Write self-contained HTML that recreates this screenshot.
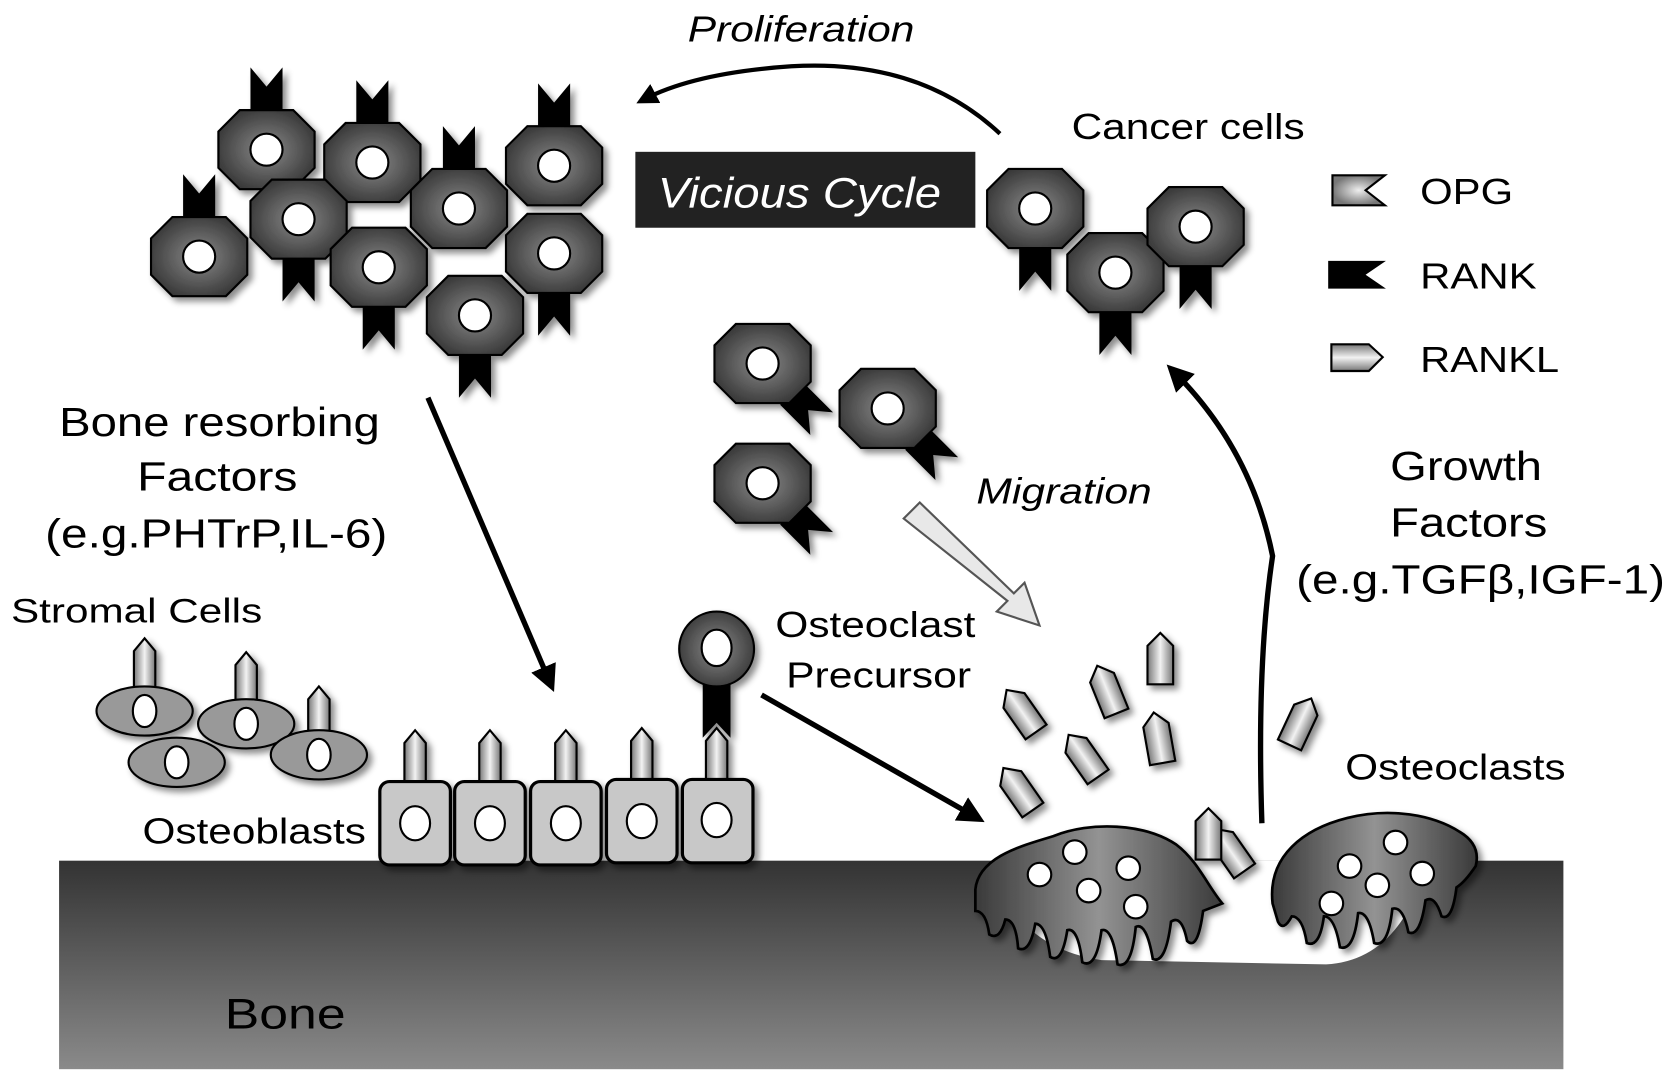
<!DOCTYPE html>
<html><head><meta charset="utf-8"><style>
html,body{margin:0;padding:0;background:#fff;}
svg{display:block;}
text{font-family:"Liberation Sans",sans-serif;fill:#000;}
</style></head><body>
<svg width="1677" height="1082" viewBox="0 0 1568 1012" xmlns="http://www.w3.org/2000/svg">
<defs>
<radialGradient id="cellg" cx="50%" cy="50%" r="60%"><stop offset="0" stop-color="#8a8a8a"/><stop offset="1" stop-color="#303030"/></radialGradient>
<linearGradient id="boneg" x1="0" y1="0" x2="0" y2="1"><stop offset="0" stop-color="#333"/><stop offset="1" stop-color="#8a8a8a"/></linearGradient>
<linearGradient id="rkl" x1="0" y1="0" x2="1" y2="0"><stop offset="0" stop-color="#777"/><stop offset="0.5" stop-color="#f2f2f2"/><stop offset="1" stop-color="#777"/></linearGradient>
<linearGradient id="rklh" x1="0" y1="0" x2="0" y2="1"><stop offset="0" stop-color="#777"/><stop offset="0.5" stop-color="#f2f2f2"/><stop offset="1" stop-color="#777"/></linearGradient>
<linearGradient id="ocg" x1="0" y1="0" x2="1" y2="0"><stop offset="0" stop-color="#3a3a3a"/><stop offset="0.5" stop-color="#939393"/><stop offset="1" stop-color="#3a3a3a"/></linearGradient>
<radialGradient id="opgg"><stop offset="0" stop-color="#eee"/><stop offset="1" stop-color="#777"/></radialGradient>
<filter id="sh" x="-30%" y="-30%" width="160%" height="160%"><feDropShadow dx="4" dy="4" stdDeviation="3" flood-color="#000" flood-opacity="0.45"/></filter>
<g id="oct"><polygon points="-25,-37 25,-37 45,-17 45,17 25,37 -25,37 -45,17 -45,-17" fill="url(#cellg)" stroke="#000" stroke-width="2"/><circle r="15" fill="#fff" stroke="#000" stroke-width="2"/></g>
<polygon id="rank" points="-15,0 15,0 15,-40 0,-22 -15,-40" fill="#000"/>
<g id="rankl"><polygon points="-12,24 12,24 12,-12 0,-24 -12,-12" fill="url(#rkl)" stroke="#000" stroke-width="2"/></g>
<g id="stick"><polygon points="-10,0 10,0 10,-36 0,-48 -10,-36" fill="url(#rkl)" stroke="#000" stroke-width="2"/></g>
<marker id="ah" markerWidth="5" markerHeight="5" refX="3" refY="2.5" orient="auto" markerUnits="strokeWidth"><path d="M0,0 L5,2.5 L0,5 z" fill="#000"/></marker>
</defs>

<!-- bone -->
<rect x="55" y="805" width="1407" height="195" fill="url(#boneg)"/>
<path d="M930,805 Q945,885 1030,898 L1240,902 Q1310,898 1335,805 z" fill="#fff"/>
<text x="210" y="962" font-size="40" textLength="113" lengthAdjust="spacingAndGlyphs">Bone</text>

<!-- top-left cluster -->
<g filter="url(#sh)">
<use href="#rank" x="249" y="103"/><use href="#rank" x="348" y="115"/><use href="#rank" x="186" y="203"/><use href="#rank" x="429" y="158"/><use href="#rank" x="518" y="118"/>
<use href="#rank" transform="translate(279,242) rotate(180)"/><use href="#rank" transform="translate(354,287) rotate(180)"/><use href="#rank" transform="translate(518,274) rotate(180)"/><use href="#rank" transform="translate(444,332) rotate(180)"/>
<use href="#oct" x="186" y="240"/><use href="#oct" x="249" y="140"/><use href="#oct" x="348" y="152"/><use href="#oct" x="279" y="205"/><use href="#oct" x="518" y="155"/><use href="#oct" x="429" y="195"/><use href="#oct" x="354" y="250"/><use href="#oct" x="518" y="237"/><use href="#oct" x="444" y="295"/>
</g>

<!-- cancer cells right -->
<g filter="url(#sh)">
<use href="#rank" transform="translate(968,232) rotate(180)"/><use href="#rank" transform="translate(1043,292) rotate(180)"/><use href="#rank" transform="translate(1118,249) rotate(180)"/>
<use href="#oct" x="968" y="195"/><use href="#oct" x="1043" y="255"/><use href="#oct" x="1118" y="212"/>
</g>
<text x="1002" y="130" font-size="34" textLength="218" lengthAdjust="spacingAndGlyphs">Cancer cells</text>

<!-- middle cells -->
<g filter="url(#sh)">
<use href="#rank" transform="translate(740,368) rotate(135)"/><use href="#rank" transform="translate(857,410) rotate(135)"/><use href="#rank" transform="translate(740,480) rotate(135)"/>
<use href="#oct" x="713" y="340"/><use href="#oct" x="830" y="382"/><use href="#oct" x="713" y="452"/>
</g>

<!-- vicious cycle -->
<rect x="594" y="142" width="318" height="71" fill="#222"/>
<text x="615" y="194" font-size="40" font-style="italic" textLength="265" lengthAdjust="spacingAndGlyphs" style="fill:#fff">Vicious Cycle</text>
<text x="643" y="39" font-size="34" font-style="italic" textLength="212" lengthAdjust="spacingAndGlyphs">Proliferation</text>
<path d="M935,125 Q860,55 740,62 Q650,68 602,93" fill="none" stroke="#000" stroke-width="4" marker-end="url(#ah)"/>

<!-- legend -->
<polygon points="1246,164 1295,164 1277,178 1295,192 1246,192" fill="url(#opgg)" stroke="#000" stroke-width="2"/>
<text x="1328" y="191" font-size="34" textLength="87" lengthAdjust="spacingAndGlyphs">OPG</text>
<polygon points="1242,244 1296,244 1277,257 1296,270 1242,270" fill="#000"/>
<text x="1328" y="270" font-size="34" textLength="109" lengthAdjust="spacingAndGlyphs">RANK</text>
<polygon points="1245,322 1280,322 1293,334 1280,347 1245,347" fill="url(#rklh)" stroke="#000" stroke-width="2"/>
<text x="1328" y="348" font-size="34" textLength="130" lengthAdjust="spacingAndGlyphs">RANKL</text>

<!-- labels left -->
<g font-size="38" lengthAdjust="spacingAndGlyphs">
<text x="55" y="408" textLength="300" lengthAdjust="spacingAndGlyphs">Bone resorbing</text>
<text x="128" y="459" textLength="150" lengthAdjust="spacingAndGlyphs">Factors</text>
<text x="42" y="512" textLength="320" lengthAdjust="spacingAndGlyphs">(e.g.PHTrP,IL-6)</text>
</g>
<text x="10" y="582" font-size="32" textLength="235" lengthAdjust="spacingAndGlyphs">Stromal Cells</text>
<text x="133" y="789" font-size="34" textLength="209" lengthAdjust="spacingAndGlyphs">Osteoblasts</text>

<!-- stromal cells -->
<g filter="url(#sh)">
<use href="#stick" x="135" y="645"/><use href="#stick" x="230" y="658"/><use href="#stick" x="298" y="690"/>
<ellipse cx="135" cy="665" rx="45" ry="23" fill="#999" stroke="#000" stroke-width="2"/><ellipse cx="135" cy="665" rx="11" ry="15" fill="#fff" stroke="#000" stroke-width="2"/>
<ellipse cx="165" cy="713" rx="45" ry="23" fill="#999" stroke="#000" stroke-width="2"/><ellipse cx="165" cy="713" rx="11" ry="15" fill="#fff" stroke="#000" stroke-width="2"/>
<ellipse cx="230" cy="677" rx="45" ry="23" fill="#999" stroke="#000" stroke-width="2"/><ellipse cx="230" cy="677" rx="11" ry="15" fill="#fff" stroke="#000" stroke-width="2"/>
<ellipse cx="298" cy="706" rx="45" ry="23" fill="#999" stroke="#000" stroke-width="2"/><ellipse cx="298" cy="706" rx="11" ry="15" fill="#fff" stroke="#000" stroke-width="2"/>
</g>

<!-- osteoblasts -->
<g filter="url(#sh)">
<use href="#stick" x="388" y="731"/><use href="#stick" x="458" y="731"/><use href="#stick" x="529" y="731"/><use href="#stick" x="600" y="729"/><use href="#stick" x="670" y="729"/>
<rect x="355" y="731" width="66" height="78" rx="9" fill="#c8c8c8" stroke="#000" stroke-width="3"/>
<rect x="425" y="731" width="66" height="78" rx="9" fill="#c8c8c8" stroke="#000" stroke-width="3"/>
<rect x="496" y="731" width="66" height="78" rx="9" fill="#c8c8c8" stroke="#000" stroke-width="3"/>
<rect x="567" y="729" width="66" height="78" rx="9" fill="#c8c8c8" stroke="#000" stroke-width="3"/>
<rect x="638" y="729" width="66" height="78" rx="9" fill="#c8c8c8" stroke="#000" stroke-width="3"/>
<ellipse cx="388" cy="770" rx="14" ry="16" fill="#fff" stroke="#000" stroke-width="2"/>
<ellipse cx="458" cy="770" rx="14" ry="16" fill="#fff" stroke="#000" stroke-width="2"/>
<ellipse cx="529" cy="770" rx="14" ry="16" fill="#fff" stroke="#000" stroke-width="2"/>
<ellipse cx="600" cy="768" rx="14" ry="16" fill="#fff" stroke="#000" stroke-width="2"/>
<ellipse cx="670" cy="767" rx="14" ry="16" fill="#fff" stroke="#000" stroke-width="2"/>
<polygon points="657,630 683,630 683,690 670,676 657,690" fill="#000"/>
<circle cx="670" cy="607" r="35" fill="url(#cellg)" stroke="#000" stroke-width="2"/>
<ellipse cx="670" cy="606" rx="14" ry="17" fill="#fff" stroke="#000" stroke-width="2"/>
</g>
<text x="725" y="596" font-size="34" textLength="187" lengthAdjust="spacingAndGlyphs">Osteoclast</text>
<text x="735" y="643" font-size="34" textLength="173" lengthAdjust="spacingAndGlyphs">Precursor</text>

<!-- arrows -->
<line x1="400" y1="372" x2="514" y2="638" stroke="#000" stroke-width="5" marker-end="url(#ah)"/>
<line x1="712" y1="650" x2="912" y2="764" stroke="#000" stroke-width="5" marker-end="url(#ah)"/>
<path d="M1180,770 Q1175,620 1190,520 Q1170,420 1098,348" fill="none" stroke="#000" stroke-width="5" marker-end="url(#ah)"/>
<polygon points="845,485 860,470 948,555 958,545 972,585 932,572 942,562" fill="#e8e8e8" stroke="#555" stroke-width="2"/>
<text x="913" y="471" font-size="34" font-style="italic" textLength="164" lengthAdjust="spacingAndGlyphs">Migration</text>

<text x="1300" y="449" font-size="38" textLength="142" lengthAdjust="spacingAndGlyphs">Growth</text>
<text x="1300" y="502" font-size="38" textLength="147" lengthAdjust="spacingAndGlyphs">Factors</text>
<text x="1212" y="555" font-size="38" textLength="345" lengthAdjust="spacingAndGlyphs">(e.g.TGFβ,IGF-1)</text>
<text x="1258" y="729" font-size="34" textLength="206" lengthAdjust="spacingAndGlyphs">Osteoclasts</text>

<!-- floating RANKL -->
<g filter="url(#sh)">
<use href="#rankl" transform="translate(955,665) rotate(-35)"/>
<use href="#rankl" transform="translate(1035,645) rotate(-22)"/>
<use href="#rankl" transform="translate(1085,616)"/>
<use href="#rankl" transform="translate(1013,707) rotate(-35)"/>
<use href="#rankl" transform="translate(1083,690) rotate(-10)"/>
<use href="#rankl" transform="translate(952,738) rotate(-35)"/>
<use href="#rankl" transform="translate(1216,675) rotate(25)"/>
<use href="#rankl" transform="translate(1150,795) rotate(-35)"/>
<use href="#rankl" transform="translate(1130,780)"/>
</g>

<!-- osteoclasts -->
<g filter="url(#sh)" fill="url(#ocg)" stroke="#000" stroke-width="2.5">
<path d="M912,832 C915,800 960,790 985,782 C1020,768 1070,770 1100,790 C1120,805 1130,830 1143,845 L1125,852 Q1120,890 1110,880 Q1105,855 1095,862 Q1090,902 1078,897 Q1072,862 1062,867 Q1058,907 1045,902 Q1040,867 1030,870 Q1025,907 1012,900 Q1008,867 998,870 Q993,902 982,895 Q978,864 968,864 Q963,892 952,887 Q950,860 940,860 Q935,880 925,874 Q922,852 912,852 z"/>
<path d="M1190,845 C1185,800 1220,775 1260,765 C1300,755 1340,762 1365,778 Q1385,790 1380,810 Q1370,825 1362,830 Q1358,862 1348,857 Q1342,837 1333,842 Q1328,877 1317,872 Q1312,847 1302,850 Q1298,887 1285,882 Q1280,852 1270,854 Q1266,890 1253,886 Q1248,857 1238,857 Q1234,887 1222,882 Q1218,857 1208,857 Q1200,872 1195,862 z"/>
</g>
<g fill="#fff" stroke="#000" stroke-width="2">
<circle cx="1005" cy="797" r="11"/><circle cx="972" cy="818" r="11"/><circle cx="1055" cy="812" r="11"/><circle cx="1018" cy="833" r="11"/><circle cx="1062" cy="848" r="11"/>
<circle cx="1305" cy="788" r="11"/><circle cx="1262" cy="810" r="11"/><circle cx="1330" cy="817" r="11"/><circle cx="1288" cy="828" r="11"/><circle cx="1245" cy="845" r="11"/>
</g>
</svg>
</body></html>
